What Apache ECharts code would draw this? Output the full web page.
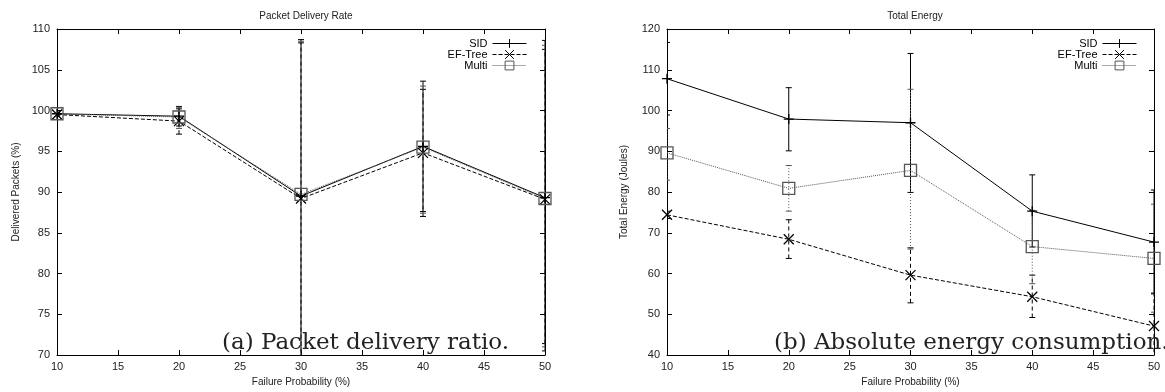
<!DOCTYPE html>
<html>
<head>
<meta charset="utf-8">
<script src="https://cdn.jsdelivr.net/npm/echarts@6/dist/echarts.min.js"></script>
<style>
  html, body { margin: 0; padding: 0; background: #fff; }
  #chart { width: 1165px; height: 392px; }
</style>
</head>
<body>
<div id="chart"></div>
<script>
// Failure probability (%) on the x axis of both panels
const failureProb = [10, 20, 30, 40, 50];

// (a) Packet delivery ratio (%): mean, lower and upper error bounds
const pdrSID        = [99.6, 99.3, 89.5, 95.6, 89.3];
const pdrSIDLow     = [99.4, 98.1, 66.0, 87.6, 70.5];
const pdrSIDHigh    = [99.8, 100.5, 108.7, 103.6, 108.6];
const pdrEFTree     = [99.5, 98.7, 89.2, 94.8, 89.1];
const pdrEFTreeLow  = [99.3, 97.1, 66.0, 87.0, 71.4];
const pdrEFTreeHigh = [99.7, 100.2, 108.3, 102.6, 107.5];
const pdrMulti      = [99.6, 99.2, 89.7, 95.5, 89.2];
const pdrMultiLow   = [99.4, 97.8, 66.0, 87.4, 71.0];
const pdrMultiHigh  = [99.8, 100.4, 108.5, 103.0, 108.0];

// (b) Total energy (Joules): mean, lower and upper error bounds
const enSID         = [107.8, 97.9, 97.0, 75.3, 67.7];
const enSIDLow      = [98.9, 90.1, 79.9, 66.5, 55.0];
const enSIDHigh     = [116.7, 105.6, 114.0, 84.2, 80.5];
const enEFTree      = [74.4, 68.4, 59.6, 54.3, 47.1];
const enEFTreeLow   = [73.5, 63.7, 52.8, 49.2, 39.0];
const enEFTreeHigh  = [75.3, 73.2, 66.3, 59.6, 55.2];
const enMulti       = [89.6, 80.9, 85.3, 66.6, 63.7];
const enMultiLow    = [82.9, 75.3, 66.0, 57.5, 50.5];
const enMultiHigh   = [95.6, 86.5, 105.2, 75.5, 77.0];

const seriesNames = ['SID', 'EF-Tree', 'Multi'];

const FONT = 'Liberation Sans, Arial, sans-serif';
const SERIF = 'DejaVu Serif, serif';

// Outline markers: plus, cross and open square
const SYM_PLUS = 'path://M0,5 L10,5 M5,0 L5,10';
const SYM_CROSS = 'path://M0,0 L10,10 M10,0 L0,10';

const styles = {
  'SID':     { color: '#000', type: 'solid',  symbol: SYM_PLUS,  size: 10, dash: null },
  'EF-Tree': { color: '#000', type: 'dashed', symbol: SYM_CROSS, size: 10, dash: [4, 3] },
  'Multi':   { color: '#555', type: 'dotted', symbol: 'rect',    size: 12, dash: [1, 2] }
};

function pairs(xs, ys) { return xs.map((x, i) => [x, ys[i]]); }
function bounds(xs, lo, hi) { return xs.map((x, i) => [x, lo[i], hi[i]]); }

function lineSeries(name, values, gridIdx) {
  const s = styles[name];
  return {
    name: name,
    type: 'line',
    xAxisIndex: gridIdx * 2,
    yAxisIndex: gridIdx * 2,
    data: pairs(failureProb, values),
    symbol: s.symbol,
    symbolSize: s.size,
    showSymbol: true,
    color: s.color,
    lineStyle: { color: s.color, width: 1, type: s.type },
    itemStyle: { color: 'rgba(0,0,0,0)', borderColor: s.color, borderWidth: 1.3 },
    emphasis: { disabled: true },
    z: 3,
    animation: false
  };
}

// Vertical error bar with short end caps
function errorSeries(name, lo, hi, gridIdx) {
  const s = styles[name];
  const stroke = { stroke: s.color, lineWidth: 1, lineDash: s.dash };
  return {
    name: name + ' range',
    type: 'custom',
    xAxisIndex: gridIdx * 2,
    yAxisIndex: gridIdx * 2,
    clip: true,
    data: bounds(failureProb, lo, hi),
    encode: { x: 0, y: [1, 2] },
    renderItem: function (params, api) {
      const x = api.value(0);
      const a = api.coord([x, api.value(1)]);
      const b = api.coord([x, api.value(2)]);
      const cap = 3;
      return {
        type: 'group',
        children: [
          { type: 'line', shape: { x1: a[0], y1: a[1], x2: b[0], y2: b[1] }, style: stroke },
          { type: 'line', shape: { x1: a[0] - cap, y1: a[1], x2: a[0] + cap, y2: a[1] }, style: { stroke: s.color, lineWidth: 1 } },
          { type: 'line', shape: { x1: b[0] - cap, y1: b[1], x2: b[0] + cap, y2: b[1] }, style: { stroke: s.color, lineWidth: 1 } }
        ]
      };
    },
    z: 2,
    animation: false
  };
}

function xAxes(gridIdx) {
  const base = {
    type: 'value', gridIndex: gridIdx, min: 10, max: 50, interval: 5,
    axisLine: { show: true, onZero: false, lineStyle: { color: '#000', width: 1 } },
    axisTick: { show: true, inside: true, length: 5, lineStyle: { color: '#000' } },
    splitLine: { show: false }
  };
  return [
    Object.assign({}, base, {
      position: 'bottom',
      name: 'Failure Probability (%)', nameLocation: 'middle', nameGap: 22,
      nameTextStyle: { fontFamily: FONT, fontSize: 10, color: '#222' },
      axisLabel: { fontFamily: FONT, fontSize: 11, color: '#222', margin: 6 }
    }),
    Object.assign({}, base, { position: 'top', axisLabel: { show: false } })
  ];
}

function yAxes(gridIdx, min, max, interval, name, gap) {
  const base = {
    type: 'value', gridIndex: gridIdx, min: min, max: max, interval: interval,
    axisLine: { show: true, onZero: false, lineStyle: { color: '#000', width: 1 } },
    axisTick: { show: true, inside: true, length: 5, lineStyle: { color: '#000' } },
    splitLine: { show: false }
  };
  return [
    Object.assign({}, base, {
      position: 'left',
      name: name, nameLocation: 'middle', nameGap: gap,
      nameTextStyle: { fontFamily: FONT, fontSize: 10, color: '#222' },
      axisLabel: { fontFamily: FONT, fontSize: 11, color: '#222', margin: 7 }
    }),
    Object.assign({}, base, { position: 'right', axisLabel: { show: false } })
  ];
}

function legendAt(right) {
  return {
    data: seriesNames,
    orient: 'vertical',
    right: right,
    top: 33,
    align: 'right',
    itemWidth: 34,
    itemHeight: 11,
    itemGap: 0,
    selectedMode: false,
    lineStyle: { width: 1 },
    itemStyle: { borderWidth: 1 },
    textStyle: { fontFamily: FONT, fontSize: 11, color: '#000', lineHeight: 11, padding: [0, 0, 0, 0] }
  };
}

const chart = echarts.init(document.getElementById('chart'), null, { renderer: 'canvas' });

const xa = xAxes(0).concat(xAxes(1));
const ya = yAxes(0, 70, 110, 5, 'Delivered Packets (%)', 36)
  .concat(yAxes(1, 40, 120, 10, 'Total Energy (Joules)', 38));

chart.setOption({
  backgroundColor: '#fff',
  animation: false,
  title: [
    { text: 'Packet Delivery Rate', left: 301, top: 6, textAlign: 'center',
      textStyle: { fontFamily: FONT, fontSize: 10, fontWeight: 'normal', color: '#222' } },
    { text: 'Total Energy', left: 910, top: 6, textAlign: 'center',
      textStyle: { fontFamily: FONT, fontSize: 10, fontWeight: 'normal', color: '#222' } }
  ],
  legend: [legendAt(633), legendAt(23)],
  grid: [
    { left: 57, right: 620, top: 29, bottom: 35, containLabel: false },
    { left: 667, right: 11, top: 29, bottom: 35, containLabel: false }
  ],
  xAxis: xa,
  yAxis: ya,
  series: [
    lineSeries('SID', pdrSID, 0),
    lineSeries('EF-Tree', pdrEFTree, 0),
    lineSeries('Multi', pdrMulti, 0),
    errorSeries('SID', pdrSIDLow, pdrSIDHigh, 0),
    errorSeries('EF-Tree', pdrEFTreeLow, pdrEFTreeHigh, 0),
    errorSeries('Multi', pdrMultiLow, pdrMultiHigh, 0),
    lineSeries('SID', enSID, 1),
    lineSeries('EF-Tree', enEFTree, 1),
    lineSeries('Multi', enMulti, 1),
    errorSeries('SID', enSIDLow, enSIDHigh, 1),
    errorSeries('EF-Tree', enEFTreeLow, enEFTreeHigh, 1),
    errorSeries('Multi', enMultiLow, enMultiHigh, 1)
  ],
  graphic: [
    { type: 'text', left: 222, top: 332, z: 10,
      style: { text: '(a) Packet delivery ratio.', font: '23px ' + SERIF, fill: '#222' } },
    { type: 'text', left: 774, top: 332, z: 10,
      style: { text: '(b) Absolute energy consumption.', font: '23px ' + SERIF, fill: '#222' } }
  ]
});
</script>
</body>
</html>
